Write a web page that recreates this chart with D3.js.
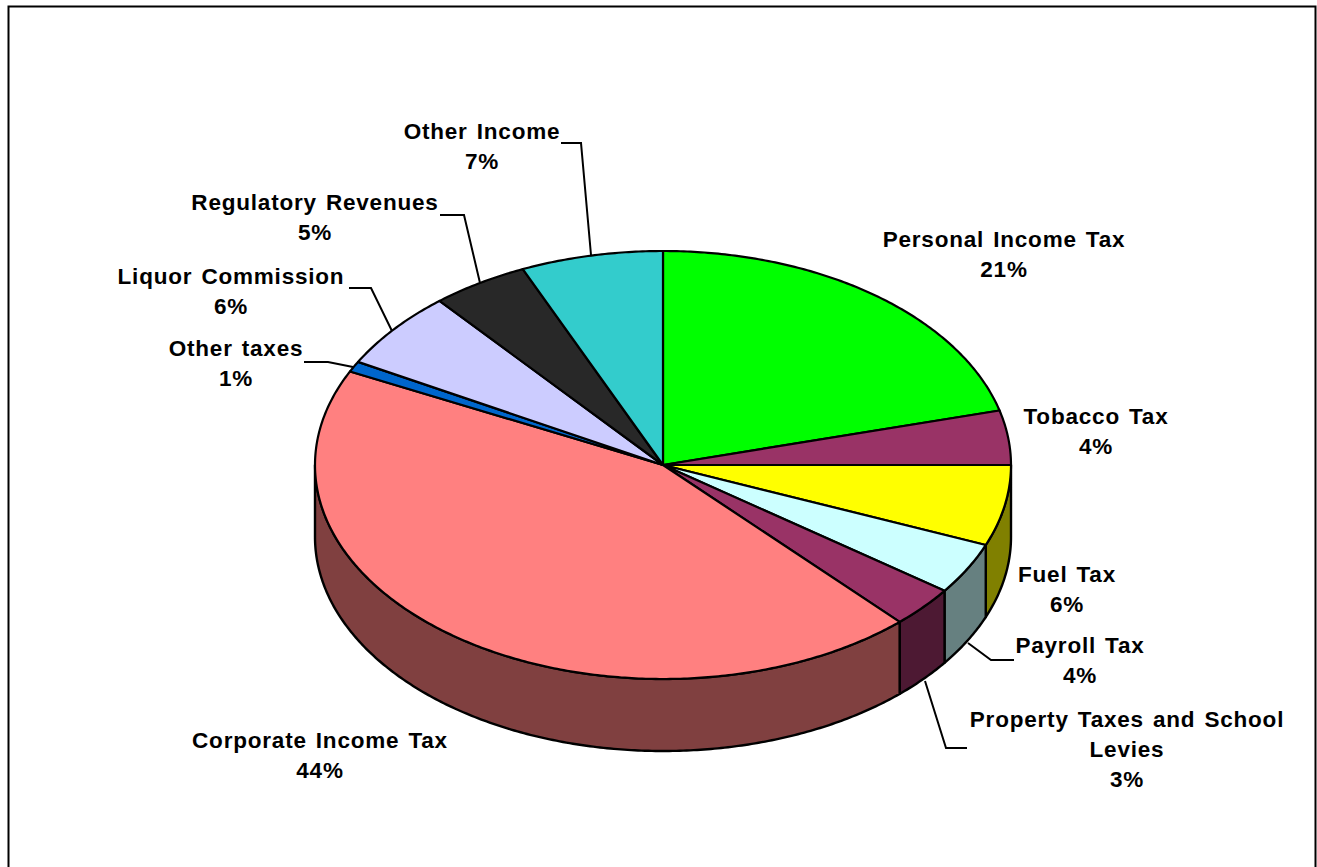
<!DOCTYPE html>
<html><head><meta charset="utf-8">
<script src="https://cdn.jsdelivr.net/npm/d3@7"></script>
<style>html,body{margin:0;padding:0;background:#fff}svg{display:block}
text{font-family:"Liberation Sans",Arial,sans-serif;font-weight:bold;font-size:22.5px;letter-spacing:0.8px;fill:#000;text-anchor:middle;word-spacing:2px}</style>
</head><body><svg id="c" width="1317" height="867"></svg>
<script>
const categories=["Personal Income Tax","Tobacco Tax","Fuel Tax","Payroll Tax","Property Taxes and School Levies","Corporate Income Tax","Other taxes","Liquor Commission","Regulatory Revenues","Other Income"];
const values=[20.9,4.1,6.1,3.9,3.1,44.1,0.8,5.9,4.5,6.6];
const percentLabels=["21%","4%","6%","4%","3%","44%","1%","6%","5%","7%"];
const topColors=["#00FF00","#993366","#FFFF00","#CCFFFF","#993366","#FF8080","#0066CC","#CCCCFF","#282828","#33CCCC"];
const sideColors=["#008000","#4D1933","#808000","#668080","#4D1933","#804040","#003366","#666680","#141414","#1A6666"];
const labelLines=[["Personal Income Tax"],["Tobacco Tax"],["Fuel Tax"],["Payroll Tax"],["Property Taxes and School","Levies"],["Corporate Income Tax"],["Other taxes"],["Liquor Commission"],["Regulatory Revenues"],["Other Income"]];
const labelAnchors=[[1004,246.5],[1096,423.5],[1067,581.5],[1080,652.5],[1127,727],[320,747.5],[236,355.5],[231,283.5],[315,209.5],[482,138.5]];
const leaders=[null,null,null,[[1014,660],[991,660],[968,643]],[[967,748],[946,748],[925,681]],null,[[304,362],[328,362],[353,367]],[[349,288],[371,288],[392,331]],[[440,215],[464,215],[480,283]],[[561,143],[581,143],[591,255]]];

const cx=663,cy=465,rx=348,ry=214,depth=72,lineGap=30;
const svg=d3.select("#c");
const sx=d3.scaleLinear().domain([-1,1]).range([cx-rx,cx+rx]);
const sy=d3.scaleLinear().domain([-1,1]).range([cy-ry,cy+ry]);
const arcs=d3.pie().sort(null).value(d=>d)(values);
const pt=a=>[sx(Math.sin(a)),sy(-Math.cos(a))];
const samples=(a0,a1)=>{const n=Math.max(2,Math.ceil((a1-a0)/0.01));return d3.range(n+1).map(i=>a0+(a1-a0)*i/n)};
const line=d3.line();

svg.append("path").attr("d","M8.5,867V6.5H1315.5V867").attr("fill","none").attr("stroke","#000").attr("stroke-width",2);

// front wall
const lo=Math.PI/2,hi=3*Math.PI/2;
const walls=arcs.map((d,i)=>({i,a0:Math.max(d.startAngle,lo),a1:Math.min(d.endAngle,hi)})).filter(w=>w.a1>w.a0+1e-6);
svg.append("g").selectAll("path").data(walls).join("path")
 .attr("d",w=>{const t=samples(w.a0,w.a1).map(pt);
   const b=t.map(p=>[p[0],p[1]+depth]).reverse();
   return line(t.concat(b))+"Z"})
 .attr("fill",w=>sideColors[w.i]).attr("stroke","#000").attr("stroke-width",2.4).attr("stroke-linejoin","round");

// top
svg.append("g").selectAll("path").data(arcs).join("path")
 .attr("d",d=>line([[cx,cy]].concat(samples(d.startAngle,d.endAngle).map(pt)))+"Z")
 .attr("fill",(d,i)=>topColors[i]).attr("stroke","#000").attr("stroke-width",2.2).attr("stroke-linejoin","round");

// leaders
svg.append("g").selectAll("path").data(leaders.filter(Boolean)).join("path")
 .attr("d",line).attr("fill","none").attr("stroke","#000").attr("stroke-width",2);

// labels
const g=svg.append("g").selectAll("text").data(categories).join("text")
 .attr("x",(d,i)=>labelAnchors[i][0]).attr("y",(d,i)=>labelAnchors[i][1]);
g.each(function(d,i){
  const t=d3.select(this),rows=labelLines[i].concat(percentLabels[i]);
  t.selectAll("tspan").data(rows).join("tspan")
   .attr("x",labelAnchors[i][0]).attr("y",(r,k)=>labelAnchors[i][1]+k*lineGap).text(r=>r);
});
</script></body></html>
